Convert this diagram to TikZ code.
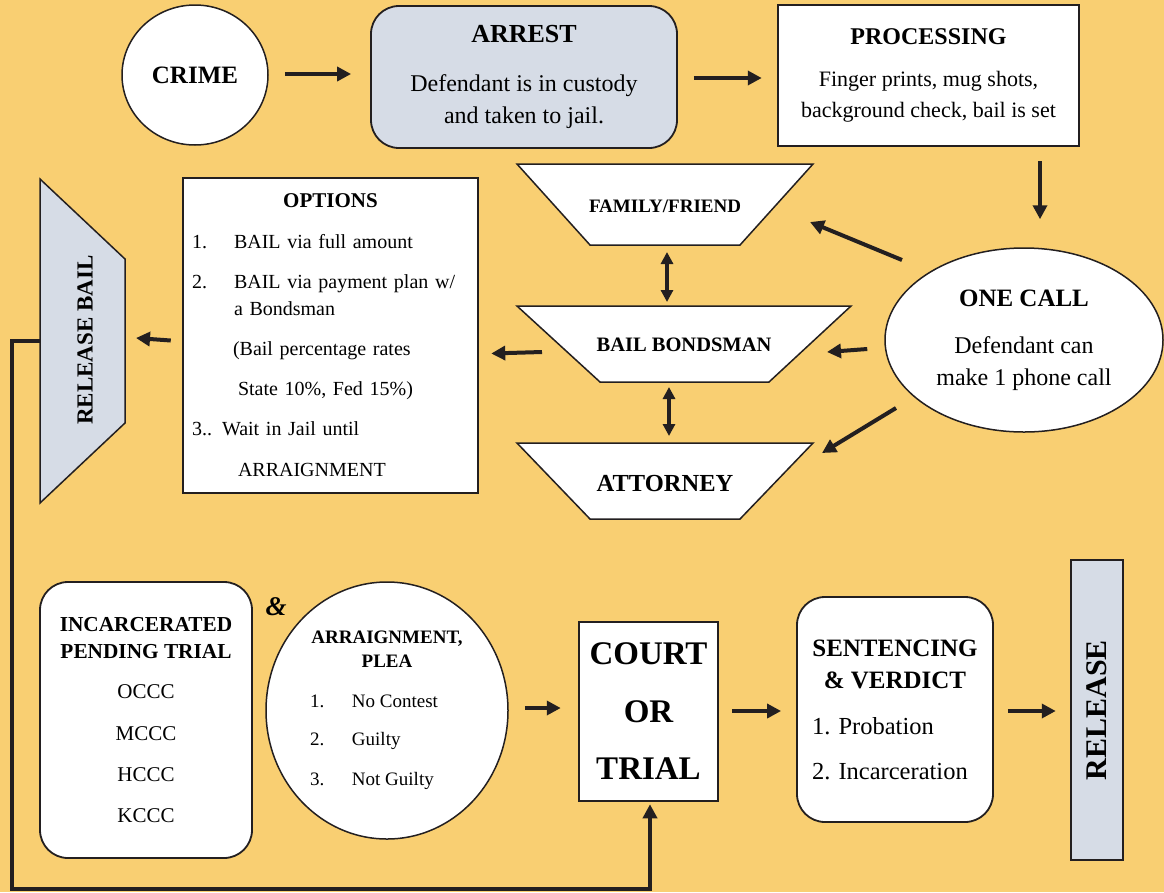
\documentclass[tikz,border=0pt]{standalone}
\usepackage{fontspec}
\setmainfont{Liberation Serif}
\usetikzlibrary{arrows.meta,shapes.geometric}
\definecolor{paper}{RGB}{249,207,114}
\definecolor{slate}{RGB}{214,220,230}
\definecolor{ink}{RGB}{35,31,32}
\newcommand{\headtxt}[2]{{\fontsize{#1}{#1}\selectfont\bfseries #2}}
\begin{document}
\begin{tikzpicture}[x=1pt,y=-1pt,
	oval/.style={ellipse,draw=ink,line width=1.5pt,fill=white,inner sep=0pt},
	plainbox/.style={rectangle,draw=ink,line width=2.5pt,fill=white,inner sep=0pt},
	softbox/.style={rectangle,rounded corners=28pt,draw=ink,line width=1.8pt,fill=white,inner sep=0pt},
	funnel/.style={draw=ink,line width=1.5pt,fill=white,line join=miter},
	arr/.style={draw=ink,line width=4pt,-{Triangle[length=14pt,width=14pt]}},
	dblarr/.style={draw=ink,line width=3.5pt,{Triangle[length=12pt,width=12pt]}-{Triangle[length=12pt,width=12pt]}}]
		\useasboundingbox (0,0) rectangle (1164,892);
		\fill[paper] (0,0) rectangle (1164,892);
		
		\draw[funnel] (517,164) -- (813,164) -- (740,245) -- (590,245) -- cycle;
		\draw[funnel] (517,306) -- (851,306) -- (769,382) -- (600,382) -- cycle;
		\draw[funnel] (517,443) -- (813,443) -- (740,519) -- (590,519) -- cycle;
		\draw[funnel,fill=slate] (40,179) -- (125,259) -- (125,423) -- (40,503) -- cycle;
		
		\node[oval,minimum width=146,minimum height=140,font=\fontsize{25}{30}\selectfont\bfseries] (crime) at (195,75) {CRIME};
		\node[softbox,fill=slate,minimum width=306,minimum height=142,align=center,font=\fontsize{24}{32}\selectfont] (arrest) at (524,77) {\headtxt{26}{ARREST}\\[17pt]Defendant is in custody\\and taken to jail.};
		\node[plainbox,minimum width=301,minimum height=141,align=center,font=\fontsize{22}{31}\selectfont] (proc) at (928.5,75.5) {\headtxt{24}{PROCESSING}\\[11pt]Finger prints, mug shots,\\background check, bail is set};
		\node[oval,minimum width=278,minimum height=184,align=center,font=\fontsize{24}{32}\selectfont] (oneCall) at (1024,340) {\headtxt{25}{ONE CALL}\\[15pt]Defendant can\\make 1 phone call};
		
		\node[font=\fontsize{19}{23}\selectfont\bfseries] (family) at (665,206) {FAMILY/FRIEND};
		\node[font=\fontsize{20.5}{25}\selectfont\bfseries] (bail) at (684,345) {BAIL BONDSMAN};
		\node[font=\fontsize{24.5}{29}\selectfont\bfseries] (attorney) at (665,483) {ATTORNEY};
		\node[rotate=90,font=\fontsize{23}{28}\selectfont\bfseries] (relBail) at (85,340) {RELEASE BAIL};
		
		\node[plainbox,minimum width=295,minimum height=315,text width=277pt,inner xsep=9pt,align=left,font=\fontsize{20}{27}\selectfont] (options) at (330.5,335.5) {%
			\makebox[\linewidth]{\headtxt{21}{OPTIONS}}\\[14pt]
			\makebox[42pt][l]{1.}BAIL via full amount\\[13pt]
			\makebox[42pt][l]{2.}BAIL via payment plan w/\\
			\hspace*{42pt}a Bondsman\\[13pt]
			\hspace*{41pt}(Bail percentage rates\\[13pt]
			\hspace*{46pt}State 10\%, Fed 15\%)\\[13pt]
			3.. Wait in Jail until\\[14pt]
			\hspace*{46pt}ARRAIGNMENT};
		
		\node[softbox,minimum width=212,minimum height=276,align=center,font=\fontsize{21}{27}\selectfont] (incarc) at (146,720) {\headtxt{21.3}{INCARCERATED}\\\headtxt{21.3}{PENDING TRIAL}\\[13pt]OCCC\\[15pt]MCCC\\[14pt]HCCC\\[14pt]KCCC};
		\node[font=\fontsize{27}{27}\selectfont\bfseries\itshape] (amp) at (276,607) {\&};
		\node[oval,minimum width=242,minimum height=257,align=center,font=\fontsize{19}{24}\selectfont] (arraign) at (387,710.5) {\headtxt{19}{ARRAIGNMENT,}\\\headtxt{19}{PLEA}\\[16pt]
			\makebox[154pt][l]{\makebox[42pt][l]{1.}No Contest}\\[14pt]
			\makebox[154pt][l]{\makebox[42pt][l]{2.}Guilty}\\[16pt]
			\makebox[154pt][l]{\makebox[42pt][l]{3.}Not Guilty}};
		\node[plainbox,minimum width=139,minimum height=179,align=center,font=\fontsize{33}{57.5}\selectfont\bfseries] (court) at (648.5,711.5) {COURT\\OR\\TRIAL};
		\node[softbox,minimum width=196,minimum height=225,align=center,font=\fontsize{24.5}{32}\selectfont] (sentence) at (895,709.5) {\headtxt{25}{SENTENCING}\\\headtxt{25}{\& VERDICT}\\[14pt]
			\makebox[166pt][l]{1. Probation}\\[13pt]
			\makebox[166pt][l]{2. Incarceration}};
		\node[plainbox,fill=slate,rotate=90,minimum width=300,minimum height=52,font=\fontsize{30}{36}\selectfont\bfseries] (release) at (1097,710) {RELEASE};
		
		\draw[arr] ([shift={(16,-1)}]crime.east) -- ([shift={(-19,-3)}]arrest.west);
		\draw[arr] ([shift={(16,1)}]arrest.east) -- ([shift={(-15,2.5)}]proc.west);
		\draw[arr] ([shift={(111.5,14)}]proc.south) -- ([shift={(16,-28)}]oneCall.north);
		\draw[arr] ([shift={(-122,-80)}]oneCall.center) -- ([shift={(145,16)}]family.center);
		\draw[arr] ([shift={(-17,9)}]oneCall.west) -- ([shift={(143,7)}]bail.center);
		\draw[arr] ([shift={(-128,68)}]oneCall.center) -- ([shift={(157,-30)}]attorney.center);
		\draw[dblarr] ([shift={(2,46)}]family.center) -- ([shift={(-17,-43)}]bail.center);
		\draw[dblarr] ([shift={(-15,42)}]bail.center) -- ([shift={(4,-47)}]attorney.center);
		\draw[arr] ([shift={(-142,7)}]bail.center) -- ([shift={(12,18)}]options.east);
		\draw[arr] ([shift={(-11,5)}]options.west) -- ([shift={(51,-2)}]relBail.center);
		\draw[arr] ([shift={(-45,1)}]relBail.center) -- ++(-28,0) |- ([shift={(1.5,87)}]court.south) -- ([shift={(1.5,2)}]court.south);
		\draw[arr] ([shift={(16,-2.5)}]arraign.east) -- ([shift={(-17,-3.5)}]court.west);
		\draw[arr] ([shift={(13,-0.5)}]court.east) -- ([shift={(-15,1.5)}]sentence.west);
		\draw[arr] ([shift={(14,1.5)}]sentence.east) -- ([shift={(-14,1)}]release.north);
	\end{tikzpicture}
\end{document}
